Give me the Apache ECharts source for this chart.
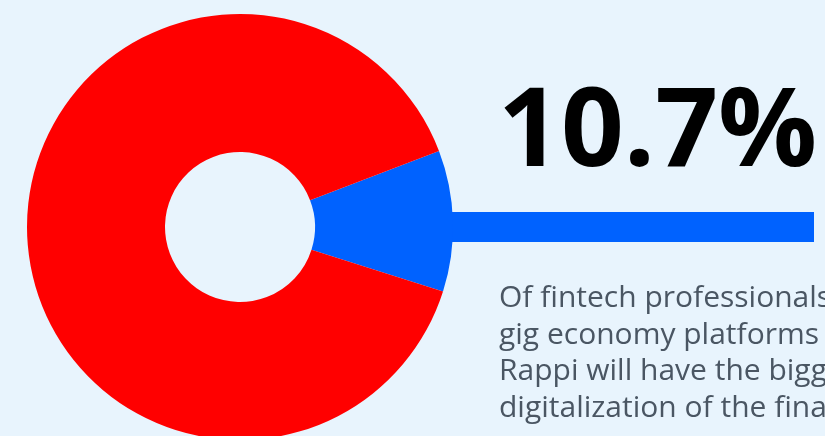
<!DOCTYPE html>
<html>
<head>
<meta charset="utf-8">
<style>
  html, body { margin: 0; padding: 0; background: #E8F4FD; }
  #chart { width: 825px; height: 436px; }
</style>
<script src="https://cdn.jsdelivr.net/npm/echarts@6/dist/echarts.min.js"></script>
</head>
<body>
<div id="chart"></div>
<script>
// Survey share shown in the donut
const categories = ['Gig economy platforms', 'Other'];
const shares = [10.7, 89.3];
const colors = ['#0062FF', '#FF0000'];

// Caption lines next to the headline figure
const captionLines = [
  'Of fintech professionals',
  'gig economy platforms',
  'Rappi will have the biggest',
  'digitalization of the financial'
];

const chart = echarts.init(document.getElementById('chart'), null, { renderer: 'canvas' });

const headline = shares[0].toFixed(1) + '%';

chart.setOption({
  backgroundColor: '#E8F4FD',
  animation: false,
  graphic: [
    {
      type: 'rect',
      z: 1,
      shape: { x: 440, y: 212, width: 374, height: 30 },
      style: { fill: colors[0] }
    },
    {
      type: 'text',
      z: 5,
      left: 498,
      top: 80,
      style: {
        text: headline,
        fill: '#000000',
        font: 'bold 110px "Open Sans", "Noto Sans", sans-serif'
      }
    },
    {
      type: 'text',
      z: 5,
      left: 499,
      top: 280,
      style: {
        text: captionLines.join('\n'),
        fill: '#4A5663',
        fontFamily: '"Open Sans", "Noto Sans", sans-serif',
        fontSize: 30,
        lineHeight: 36.7
      }
    }
  ],
  series: [
    {
      type: 'pie',
      z: 3,
      center: [240, 227],
      radius: [75, 213],
      startAngle: 20.9,
      clockwise: true,
      silent: true,
      label: { show: false },
      labelLine: { show: false },
      itemStyle: { borderWidth: 0 },
      data: categories.map((name, i) => ({
        name,
        value: shares[i],
        itemStyle: { color: colors[i] }
      }))
    }
  ]
});
</script>
</body>
</html>
